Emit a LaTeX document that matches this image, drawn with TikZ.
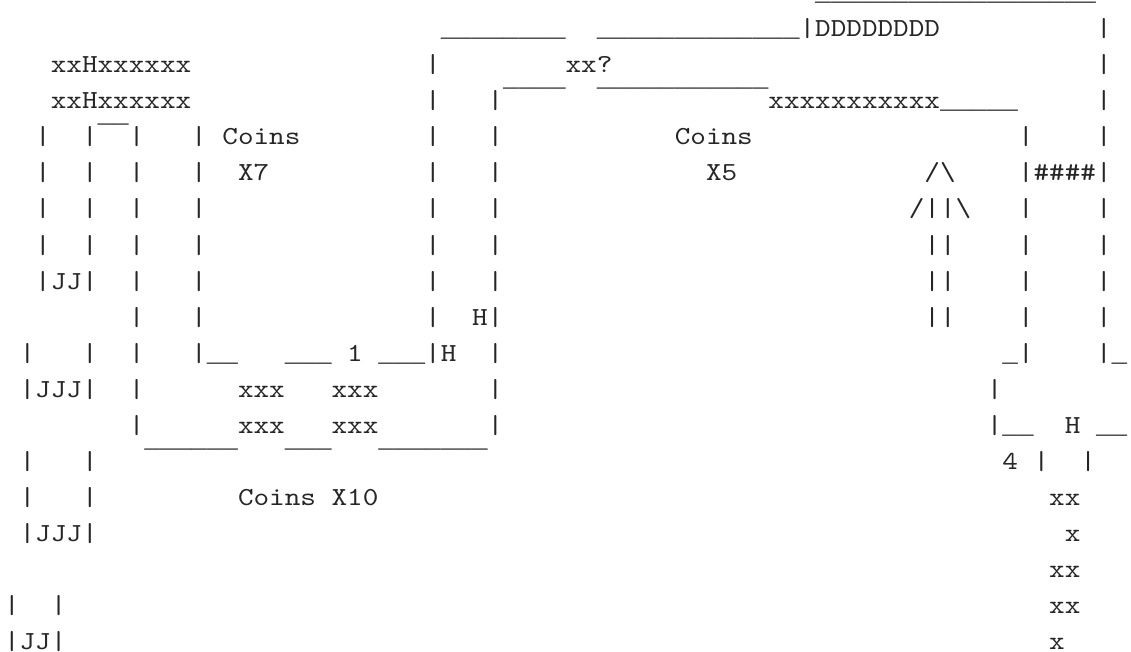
\documentclass[tikz,border=0pt]{standalone}
\usepackage{fontspec}
\newfontfamily\monofont{lmmono10-regular.otf}[FakeStretch=1.1429]
\newfontfamily\barfont{Liberation Mono}
\ExplSyntaxOn
\cs_new:Npn \Rp #1 #2 { \prg_replicate:nn {#1} {#2} }
\ExplSyntaxOff
\newcommand\us{{\barfont\fontsize{19.5pt}{24pt}\selectfont\_}}
\newcommand\mc{{\barfont\fontsize{19.5pt}{24pt}\selectfont ¯}}
\newcounter{tn}
\definecolor{ink}{gray}{0.15}
\tikzset{
  txt/.style={anchor=base west, inner sep=0pt, outer sep=0pt, text=ink,
    font={\monofont\fontsize{19.5pt}{24pt}\selectfont}}
}
% #1 = column, #2 = row, #3 = text
\newcommand\T[3]{\stepcounter{tn}\edef\tnm{t\arabic{tn}}%
  \node[txt,name=\tnm] at ({3pt+(#1)*11.7pt},{-0.4875pt-(#2)*27.0375pt}) {#3};}
% bars: #1 = row, #2 = list of columns
\newcommand\Bars[2]{\foreach\cc in {#2}{\T{\cc}{#1}{|}}}
\begin{document}
\begin{tikzpicture}
\fill[white] (0,0) rectangle (848.25pt,-489pt);
\useasboundingbox (0,0) rectangle (848.25pt,-489pt);
% row 0
\T{52}{0}{\Rp{18}{\us}}
% row 1
\T{28}{1}{\Rp{8}{\us}}
\T{38}{1}{\Rp{13}{\us}}
\T{51}{1}{|DDDDDDDD}
\Bars{1}{70}
% row 2
\T{3}{2}{xxHxxxxxx}
\Bars{2}{27,70}
\T{36}{2}{xx?}
% row 3
\T{3}{3}{xxHxxxxxx}
\Bars{3}{27,70}
\T{31}{3}{|\Rp{4}{\mc}}
\T{38}{3}{\Rp{11}{\mc}xxxxxxxxxxx\Rp{5}{\us}}
% row 4
\Bars{4}{2,12,27,31,65,70}
\T{5}{4}{|\mc\mc|}
\T{14}{4}{Coins}
\T{43}{4}{Coins}
% row 5
\Bars{5}{2,5,8,12,27,31}
\T{15}{5}{X7}
\T{45}{5}{X5}
\T{59}{5}{/\textbackslash}
\T{65}{5}{|\#\#\#\#|}
% row 6
\Bars{6}{2,5,8,12,27,31,65,70}
\T{58}{6}{/||\textbackslash}
% row 7
\Bars{7}{2,5,8,12,27,31,65,70}
\T{59}{7}{||}
% row 8
\T{2}{8}{|JJ|}
\Bars{8}{8,12,27,31,65,70}
\T{59}{8}{||}
% row 9
\Bars{9}{8,12,27,65,70}
\T{30}{9}{H|}
\T{59}{9}{||}
% row 10
\Bars{10}{1,5,8,31}
\T{12}{10}{|\us\us}
\T{18}{10}{\us\us\us}
\T{22}{10}{1}
\T{24}{10}{\us\us\us|H}
\T{64}{10}{\us|}
\T{70}{10}{|\us}
% row 11
\T{1}{11}{|JJJ|}
\Bars{11}{8,31,63}
\T{15}{11}{xxx}
\T{21}{11}{xxx}
% row 12
\Bars{12}{8,31}
\T{15}{12}{xxx}
\T{21}{12}{xxx}
\T{63}{12}{|\us\us}
\T{68}{12}{H}
\T{70}{12}{\us\us}
% row 13
\Bars{13}{1,5,66,69}
\T{9}{13}{\Rp{6}{\mc}}
\T{18}{13}{\mc\mc\mc}
\T{24}{13}{\Rp{7}{\mc}}
\T{64}{13}{4}
% row 14
\Bars{14}{1,5}
\T{15}{14}{Coins X10}
\T{67}{14}{xx}
% row 15
\T{1}{15}{|JJJ|}
\T{68}{15}{x}
% row 16
\T{67}{16}{xx}
% row 17
\Bars{17}{0,3}
\T{67}{17}{xx}
% row 18
\T{0}{18}{|JJ|}
\T{67}{18}{x}
\end{tikzpicture}
\end{document}
